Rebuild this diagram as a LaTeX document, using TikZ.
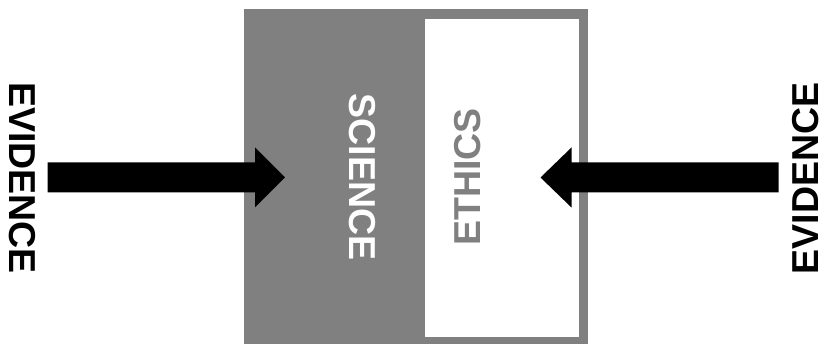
\documentclass[tikz,border=0pt]{standalone}
\usepackage{fontspec}
\setmainfont{Liberation Sans}
\usetikzlibrary{calc}
\begin{document}
\begin{tikzpicture}[x=1pt,y=-1pt,
  lbl/.style={font=\bfseries\fontsize{37.5}{40}\selectfont, inner sep=0pt, anchor=center},
  fatarrow/.style={fill=black, draw=none}]
\definecolor{boxgray}{RGB}{128,128,128}
\useasboundingbox (0,0) rectangle (823,344);
% boxes
\fill[boxgray] (243.5,9.5) rectangle (588,344);
\fill[white] (425,19.5) rectangle (579,337.5);
% labels
\node[lbl, rotate=-90, text=black] (evl) at (22.5,178) {EVIDENCE};
\node[lbl, rotate=90, text=black] (evr) at (805.5,178.5) {EVIDENCE};
\node[lbl, rotate=-90, text=white] (sci) at (362,177) {SCIENCE};
\node[lbl, rotate=90, text=boxgray] (eth) at (468,177) {ETHICS};
% arrow anchors
\coordinate (la) at (47.5,177.5);
\coordinate (lt) at (285,177.5);
\coordinate (ra) at (778.5,177.5);
\coordinate (rt) at (540.5,177.5);
% left arrow
\fill[fatarrow] ($(la)+(0,-15)$) -- ($(lt)+(-30,-15)$) -- ($(lt)+(-30,-30)$) -- (lt)
  -- ($(lt)+(-30,30)$) -- ($(lt)+(-30,15)$) -- ($(la)+(0,15)$) -- cycle;
% right arrow
\fill[fatarrow] ($(ra)+(0,-15)$) -- ($(rt)+(31,-15)$) -- ($(rt)+(31,-30)$) -- (rt)
  -- ($(rt)+(31,30)$) -- ($(rt)+(31,15)$) -- ($(ra)+(0,15)$) -- cycle;
\end{tikzpicture}
\end{document}
